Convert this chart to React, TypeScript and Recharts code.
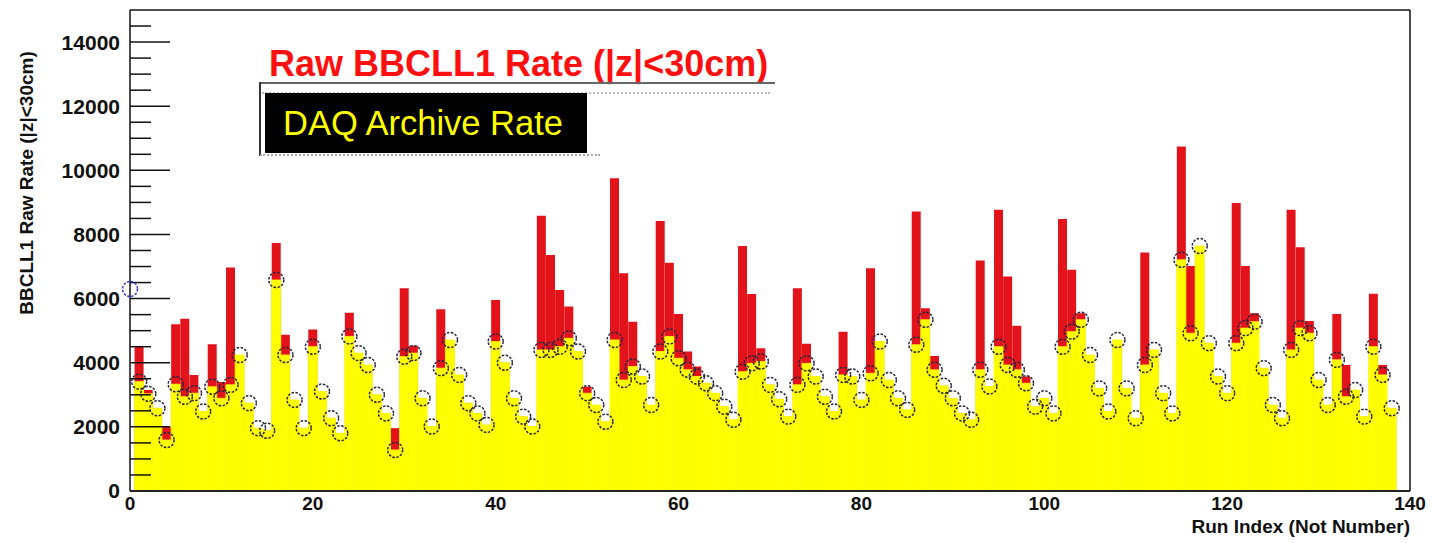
import React from 'react';
import { ComposedChart, Bar, Line, XAxis, YAxis, ReferenceLine } from 'recharts';

// DAQ archive rate per run index (open circles + yellow bars)
const daqRate = [
  6300, 3410, 3030, 2580, 1590, 3330, 2940, 3050, 2480, 3250,
  2890, 3310, 4240, 2740, 1960, 1880, 6580, 4240, 2840, 1960,
  4500, 3100, 2270, 1800, 4820, 4300, 3930, 3000, 2420, 1280,
  4190, 4300, 2890, 2010, 3830, 4710, 3620, 2740, 2420, 2060,
  4660, 4000, 2890, 2320, 2010, 4400, 4400, 4500, 4760, 4350,
  3050, 2680, 2160, 4710, 3460, 3880, 3570, 2680, 4350, 4820,
  4140, 3780, 3570, 3360, 3050, 2630, 2220, 3720, 3980, 4040,
  3310, 2860, 2320, 3310, 3980, 3570, 2940, 2480, 3620, 3570,
  2840, 3670, 4660, 3460, 2890, 2530, 4560, 5340, 3780, 3280,
  2890, 2420, 2220, 3780, 3260, 4500, 3930, 3780, 3360, 2630,
  2890, 2420, 4500, 4970, 5340, 4240, 3200, 2480, 4710, 3200,
  2270, 3930, 4400, 3050, 2420, 7210, 4920, 7640, 4610, 3570,
  3050, 4610, 5080, 5280, 3830, 2680, 2270, 4400, 5080, 4920,
  3460, 2680, 4090, 2940, 3150, 2320, 4500, 3620, 2580,
];

// raw BBCLL1 rate (|z|<30cm) per run index (red bars)
const rawRate = [
  null, 4500, 3150, 2580, 2000, 5200, 5370, 3620, 2480, 4580,
  3400, 6970, 4240, 2740, 1960, 1880, 7730, 4870, 2840, 1960,
  5040, 3100, 2270, 1800, 5560, 4300, 3930, 3000, 2420, 1960,
  6320, 4530, 2890, 2010, 5670, 4710, 3620, 2740, 2420, 2060,
  5960, 4000, 2890, 2320, 2010, 8580, 7360, 6270, 5750, 4350,
  3250, 2680, 2160, 9750, 6790, 5280, 3570, 2680, 8420, 7120,
  5520, 4350, 3880, 3360, 3050, 2630, 2220, 7640, 6140, 4450,
  3310, 2860, 2320, 6320, 4590, 3570, 2940, 2480, 4970, 3570,
  2840, 6950, 4660, 3460, 2890, 2530, 8720, 5700, 4210, 3280,
  2890, 2420, 2220, 7190, 3260, 8770, 6690, 5150, 3570, 2630,
  2890, 2420, 8480, 6900, 5540, 4240, 3200, 2480, 4710, 3200,
  2270, 7440, 4400, 3050, 2420, 10740, 7020, 7640, 4610, 3570,
  3050, 8980, 7020, 5540, 3830, 2680, 2270, 8770, 7600, 5300,
  3460, 2680, 5520, 3930, 3150, 2320, 6150, 3930, 2580,
];

const xTicks = [0, 20, 40, 60, 80, 100, 120, 140];
const yMajorTicks = [0, 2000, 4000, 6000, 8000, 10000, 12000, 14000];
const yMinorTicks = [
  500, 1000, 1500, 2500, 3000, 3500, 4500, 5000, 5500, 6500, 7000, 7500,
  8500, 9000, 9500, 10500, 11000, 11500, 12500, 13000, 13500, 14500,
];

// the histogram starts at run 1, the graph at run 0
const histFirstRun = 1;

const rows = daqRate.map((daq, i) => ({
  run: i,
  raw: i >= histFirstRun ? rawRate[i] : null,
  daq: i >= histFirstRun ? daq : null,
  marker: daq,
}));

const SANS = "'Liberation Sans', Arial, Helvetica, sans-serif";
const W = 1433;
const H = 543;
const PLOT_LEFT = 130;
const PLOT_RIGHT = 1410;
const X_MAX = 140;
const BIN = (PLOT_RIGHT - PLOT_LEFT) / X_MAX;
// ROOT style inward ticks, lengths in px turned into x units
const MAJOR_LEN = 40 / BIN;
const MINOR_LEN = 21 / BIN;

const Marker = (props: any) => {
  const { cx, cy, payload } = props;
  if (cx == null || cy == null) return null;
  return (
    <circle
      key={`m-${payload.run}`}
      cx={cx}
      cy={cy}
      r={7.5}
      fill="none"
      stroke={payload.run === 0 ? '#3a3ad0' : '#26263c'}
      strokeWidth={1.5}
      strokeDasharray="2.5 1.5"
    />
  );
};

export default function App() {
  return (
    <div style={{ position: 'absolute', left: 0, top: 0, width: W, height: H, background: '#fff', fontFamily: SANS }}>
      <ComposedChart
        width={W}
        height={H}
        data={rows}
        barCategoryGap={0}
        barGap={0}
        margin={{ top: 10, right: W - PLOT_RIGHT, bottom: 0, left: 0 }}
      >
        <XAxis
          xAxisId="a-main"
          dataKey="run"
          type="number"
          domain={[0, X_MAX]}
          ticks={xTicks}
          interval={0}
          height={52}
          tickSize={0}
          tickMargin={6}
          axisLine={{ stroke: '#222', strokeWidth: 2 }}
          tick={{ fontSize: 19, fontWeight: 'bold', fill: '#111', fontFamily: SANS }}
        />
        <XAxis xAxisId="z-back" dataKey="run" type="number" domain={[0, X_MAX]} height={0} hide />
        <YAxis
          type="number"
          domain={[0, 15000]}
          ticks={yMajorTicks}
          interval={0}
          width={PLOT_LEFT}
          tickLine={false}
          tickSize={0}
          tickMargin={10}
          axisLine={{ stroke: '#111', strokeWidth: 1.5 }}
          tick={{ fontSize: 21, fontWeight: 'bold', fill: '#111', fontFamily: SANS }}
        />
        <Bar xAxisId="z-back" dataKey="raw" fill="#e3131b" isAnimationActive={false} />
        <Bar
          xAxisId="a-main"
          dataKey="daq"
          fill="#ffff00"
          stroke="#ffff00"
          strokeWidth={0.8}
          isAnimationActive={false}
        />
        <Line
          xAxisId="a-main"
          dataKey="marker"
          stroke="none"
          dot={Marker}
          activeDot={false}
          isAnimationActive={false}
        />
        {yMajorTicks.map((v) => (
          <ReferenceLine
            key={`maj-${v}`}
            xAxisId="a-main"
            segment={[{ x: 0, y: v }, { x: MAJOR_LEN, y: v }]}
            stroke="#111"
            strokeWidth={1.5}
          />
        ))}
        {yMinorTicks.map((v) => (
          <ReferenceLine
            key={`min-${v}`}
            xAxisId="a-main"
            segment={[{ x: 0, y: v }, { x: MINOR_LEN, y: v }]}
            stroke="#111"
            strokeWidth={1.5}
          />
        ))}
        <ReferenceLine xAxisId="a-main" y={15000} stroke="#111" strokeWidth={1.5} />
        <ReferenceLine xAxisId="a-main" x={X_MAX} stroke="#111" strokeWidth={1.5} />
      </ComposedChart>

      {/* y axis title */}
      <div
        style={{
          position: 'absolute', left: 27, top: 183, transform: 'translate(-50%, -50%) rotate(-90deg)',
          fontSize: 19, fontWeight: 'bold', color: '#111', whiteSpace: 'nowrap', lineHeight: '20px',
        }}
      >
        BBCLL1 Raw Rate (|z|&lt;30cm)
      </div>

      {/* x axis title */}
      <div
        style={{
          position: 'absolute', right: W - PLOT_RIGHT, top: 516, fontSize: 19, fontWeight: 'bold',
          color: '#111', whiteSpace: 'nowrap', lineHeight: '22px',
        }}
      >
        Run Index (Not Number)
      </div>

      {/* legend */}
      <div
        style={{
          position: 'absolute', left: 269, top: 46, fontSize: 36, fontWeight: 'bold', color: '#ff1010',
          whiteSpace: 'nowrap', lineHeight: '36px',
        }}
      >
        Raw BBCLL1 Rate (|z|&lt;30cm)
      </div>
      <div style={{ position: 'absolute', left: 259, top: 82, width: 516, height: 2, background: '#666' }} />
      <div style={{ position: 'absolute', left: 262, top: 92, width: 508, borderTop: '2px dotted #bbb' }} />
      <div style={{ position: 'absolute', left: 259, top: 82, width: 2, height: 74, background: '#333' }} />
      <div style={{ position: 'absolute', left: 265, top: 93, width: 322, height: 60, background: '#000' }} />
      <div
        style={{
          position: 'absolute', left: 283, top: 106, fontSize: 34.5, color: '#ffff00',
          whiteSpace: 'nowrap', lineHeight: '34px',
        }}
      >
        DAQ Archive Rate
      </div>
      <div style={{ position: 'absolute', left: 260, top: 154, width: 340, borderTop: '2px dotted #aaa' }} />
    </div>
  );
}
